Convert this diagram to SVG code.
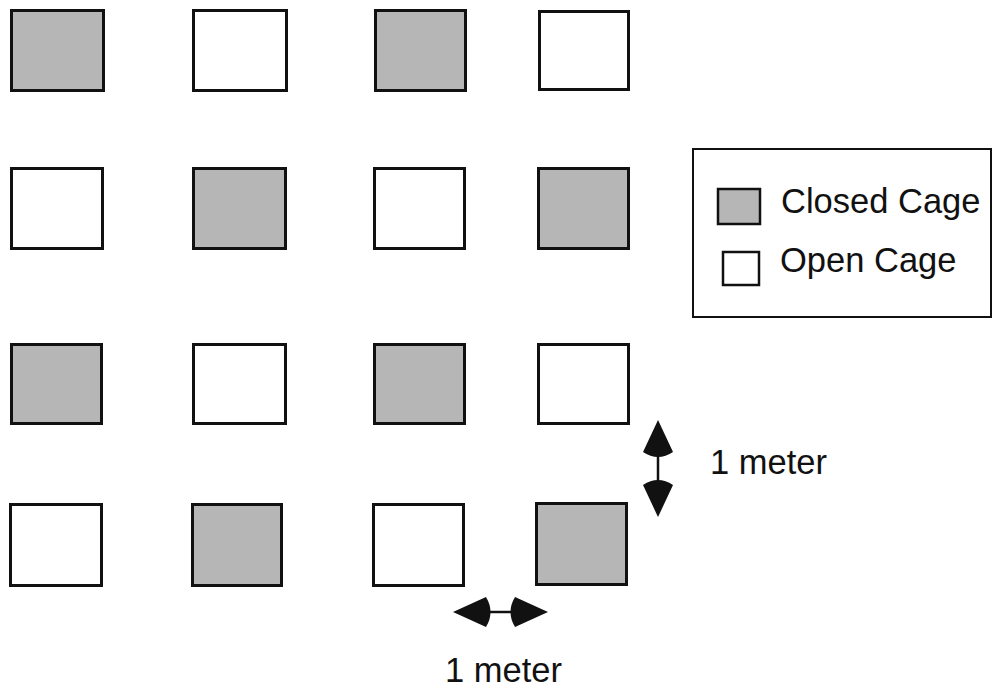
<svg xmlns="http://www.w3.org/2000/svg" width="996" height="692" viewBox="0 0 996 692">
<style>
.cage{stroke:#111;stroke-width:3}
.closed{fill:#b6b6b6}
.open{fill:#fff}
.lbl{font-family:"Liberation Sans",Arial,Helvetica,sans-serif;font-size:34.5px;fill:#111}
.head{fill:#111}
.shaft{stroke:#111;stroke-width:2.5;fill:none}
</style>
<rect width="996" height="692" fill="#fff"/>
<g id="cages">
<g id="c11"><rect class="cage closed" x="11.5" y="10.5" width="92" height="80"/></g>
<g id="c12"><rect class="cage open" x="193.5" y="10.5" width="93" height="80"/></g>
<g id="c13"><rect class="cage closed" x="375.5" y="10.5" width="90" height="80"/></g>
<g id="c14"><rect class="cage open" x="539.5" y="11.5" width="89" height="78"/></g>
<g id="c21"><rect class="cage open" x="11.5" y="168.5" width="91" height="80"/></g>
<g id="c22"><rect class="cage closed" x="193.5" y="168.5" width="92" height="80"/></g>
<g id="c23"><rect class="cage open" x="374.5" y="168.5" width="90" height="80"/></g>
<g id="c24"><rect class="cage closed" x="538.5" y="168.5" width="90" height="80"/></g>
<g id="c31"><rect class="cage closed" x="11.5" y="344.5" width="90" height="79"/></g>
<g id="c32"><rect class="cage open" x="193.5" y="344.5" width="92" height="79"/></g>
<g id="c33"><rect class="cage closed" x="374.5" y="344.5" width="90" height="79"/></g>
<g id="c34"><rect class="cage open" x="538.5" y="344.5" width="90" height="79"/></g>
<g id="c41"><rect class="cage open" x="10.5" y="504.5" width="91" height="81"/></g>
<g id="c42"><rect class="cage closed" x="192.5" y="504.5" width="89" height="81"/></g>
<g id="c43"><rect class="cage open" x="373.5" y="504.5" width="90" height="81"/></g>
<g id="c44"><rect class="cage closed" x="536.5" y="503.5" width="90" height="81"/></g>
</g>
<g id="legend">
<rect x="693" y="149" width="298" height="168" fill="#fff" stroke="#111" stroke-width="2"/>
<rect x="718" y="189" width="42" height="35" fill="#b6b6b6" stroke="#111" stroke-width="2.5"/>
<rect x="723" y="252" width="36" height="33" fill="#fff" stroke="#111" stroke-width="2.5"/>
<text class="lbl" x="781" y="213">Closed Cage</text>
<text class="lbl" x="780" y="272">Open Cage</text>
</g>
<g id="connectors">
<g id="vscale">
<line class="shaft" x1="658" y1="452" x2="658" y2="482"/>
<path class="head" d="M658,420 L673,452 Q658,462 643,452 Z"/>
<path class="head" d="M658,517 L673,485 Q658,475 643,485 Z"/>
</g>
<g id="hscale">
<line class="shaft" x1="486" y1="612" x2="515" y2="612"/>
<path class="head" d="M453,612 L486,597 Q495,612 486,627 Z"/>
<path class="head" d="M548,612 L515,597 Q506,612 515,627 Z"/>
</g>
</g>
<text class="lbl" x="710" y="474">1 meter</text>
<text class="lbl" x="445" y="682">1 meter</text>
</svg>
